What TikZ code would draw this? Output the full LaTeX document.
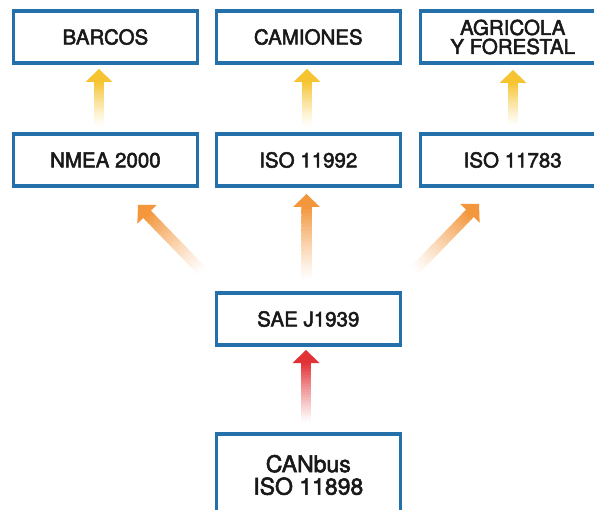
\documentclass[tikz,border=0pt]{standalone}
\usepackage{fontspec}
\setmainfont{TeX Gyre Heros}
\newfontfamily\boxfont{TeX Gyre Heros}[FakeBold=2.5]
\usetikzlibrary{calc}
\definecolor{boxblue}{RGB}{35,112,170}
\definecolor{txtdark}{RGB}{25,25,25}
\definecolor{arrYellow}{RGB}{246,196,48}
\definecolor{arrOrange}{RGB}{243,150,60}
\definecolor{arrRed}{RGB}{225,50,55}
\newcommand{\fadearrow}[3]{%
  \coordinate (hb) at ($(#2)!13pt!(#1)$);
  \foreach \i in {0,...,39}{%
    \pgfmathsetmacro\pa{\i/40}%
    \pgfmathsetmacro\pb{min((\i+1.4)/40,1.03)}%
    \pgfmathsetmacro\pc{100*((\i+0.5)/40)^1.2}%
    \draw[line width=10.5pt, draw=#3!\pc!white] ($(#1)!\pa!(hb)$) -- ($(#1)!\pb!(hb)$);
  }
  \fill[#3] (#2) -- ($(hb)!13.5pt!90:(#2)$) -- ($(hb)!13.5pt!-90:(#2)$) -- cycle;
}
\begin{document}
\begin{tikzpicture}[x=1pt,y=-1pt,
  stdbox/.style={draw=boxblue, line width=3.3pt, minimum width=184pt, minimum height=52pt,
    inner sep=0pt, align=center, text=txtdark, font=\boxfont\fontsize{20.5}{19}\selectfont},
  bigbox/.style={stdbox, minimum height=82pt, font=\boxfont\fontsize{23}{22.5}\selectfont}]
\useasboundingbox (0,0) rectangle (594,510);
\clip (0,0) rectangle (594,510);
\fill[white] (0,0) rectangle (594,510);
% boxes
\node[stdbox] (barcos) at (105.4,37) {BARCOS};
\node[stdbox] (camiones) at (308.3,37) {CAMIONES};
\node[stdbox] (agri) at (512.7,37) {AGRICOLA\\Y FORESTAL};
\node[stdbox] (nmea) at (105.4,160) {NMEA 2000};
\node[stdbox] (iso92) at (308.3,160) {ISO 11992};
\node[stdbox] (iso83) at (512.7,160) {ISO 11783};
\node[stdbox] (sae) at (308.3,319) {SAE J1939};
\node[bigbox] (can) at (308.3,475) {CANbus\\ISO 11898};
% arrow end points
\coordinate (y1t) at (99,127);  \coordinate (y1h) at (99,69);
\coordinate (y2t) at (307,127); \coordinate (y2h) at (307,69);
\coordinate (y3t) at (513,126); \coordinate (y3h) at (513,70);
\coordinate (o1t) at (203,272); \coordinate (o1h) at (138,205);
\coordinate (o2t) at (306.5,281); \coordinate (o2h) at (306.5,194);
\coordinate (o3t) at (414,271); \coordinate (o3h) at (479,204);
\coordinate (rt) at (306,424); \coordinate (rh) at (306,350);
\fadearrow{y1t}{y1h}{arrYellow}
\fadearrow{y2t}{y2h}{arrYellow}
\fadearrow{y3t}{y3h}{arrYellow}
\fadearrow{o1t}{o1h}{arrOrange}
\fadearrow{o2t}{o2h}{arrOrange}
\fadearrow{o3t}{o3h}{arrOrange}
\fadearrow{rt}{rh}{arrRed}
\end{tikzpicture}
\end{document}
